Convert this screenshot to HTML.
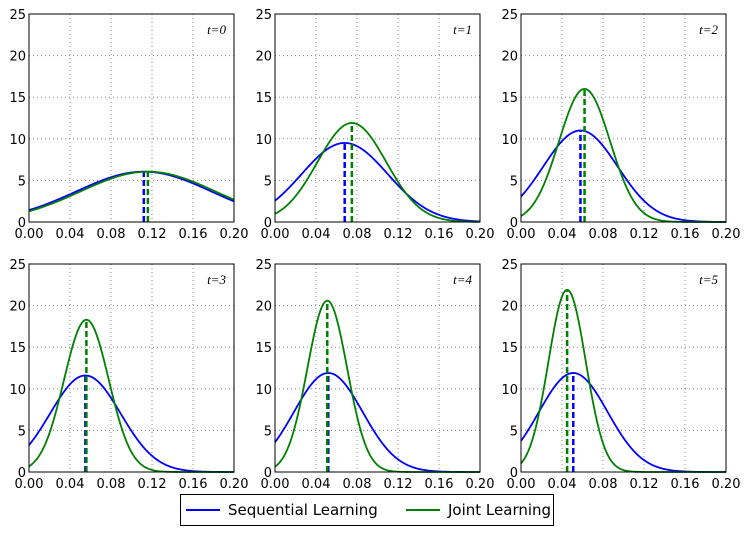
<!DOCTYPE html>
<html><head><meta charset="utf-8"><style>
body{margin:0;background:#fff;width:747px;height:531px;overflow:hidden;font-family:"DejaVu Sans","Liberation Sans",sans-serif}
</style></head><body>
<svg id="c" width="747" height="531" xmlns="http://www.w3.org/2000/svg"></svg>
<script>
const tLabels=["t=0","t=1","t=2","t=3","t=4","t=5"];
const blueMu=[0.112,0.068,0.058,0.055,0.052,0.051];
const bluePeak=[6.05,9.5,11.0,11.6,11.9,11.9];
const greenMu=[0.116,0.075,0.062,0.056,0.051,0.045];
const greenPeak=[6.05,11.9,16.0,18.3,20.6,21.9];
const xTicks=[0,0.04,0.08,0.12,0.16,0.2];
const xTickLabels=["0.00","0.04","0.08","0.12","0.16","0.20"];
const yTicks=[0,5,10,15,20,25];
const NS="http://www.w3.org/2000/svg";
const svg=document.getElementById('c');
function mk(t,a,p){const e=document.createElementNS(NS,t);for(const k in a)e.setAttribute(k,a[k]);(p||svg).appendChild(e);return e;}
const lefts=[29,275,521],tops=[14,264],W=205,H=208;
for(let i=0;i<6;i++){
 const L=lefts[i%3],T=tops[Math.floor(i/3)];
 const g=mk('g',{});
 
 
 const X=v=>L+v/0.2*W, Y=v=>T+H-v/25*H;
 xTicks.forEach((v,k)=>{
  const l=mk('line',{x1:X(v),x2:X(v),y1:T,y2:T+H,stroke:'#888','stroke-dasharray':'1,3','stroke-width':1},g);
  
  const tx=mk('text',{x:X(v),y:T+H+16,'text-anchor':'middle','font-size':13,fill:'#000'},g);
  tx.textContent=xTickLabels[k];
  
 });
 yTicks.forEach(v=>{
  const l=mk('line',{x1:L,x2:L+W,y1:Y(v),y2:Y(v),stroke:'#888','stroke-dasharray':'1,3','stroke-width':1},g);
  
  const tx=mk('text',{x:L-3,y:Y(v)+5,'text-anchor':'end','font-size':13,fill:'#000'},g);
  tx.textContent=v;
  
 });
 [[blueMu[i],bluePeak[i],'#0000ff','sequential'],[greenMu[i],greenPeak[i],'#008000','joint']].forEach(([mu,pk,col,nm])=>{
  const s=1/(pk*Math.sqrt(2*Math.PI));let d='';
  for(let j=0;j<=200;j++){const x=0.2*j/200;const y=pk*Math.exp(-((x-mu)**2)/(2*s*s));d+=(j?'L':'M')+X(x).toFixed(2)+','+Y(y).toFixed(2);}
  const p=mk('path',{d:d,fill:'none',stroke:col,'stroke-width':1.8},g);
  
  const m=mk('line',{x1:X(mu),x2:X(mu),y1:Y(0),y2:Y(pk),stroke:col,'stroke-width':2.5,'stroke-dasharray':'6,3'},g);
  
 });
 const r=mk('rect',{x:L,y:T,width:W,height:H,fill:'none',stroke:'#000','stroke-width':1},g);
 
 const tl=mk('text',{x:L+W-8,y:T+20,'text-anchor':'end','font-size':13,'font-family':'Liberation Serif,serif','font-style':'italic'},g);
 tl.textContent=tLabels[i];
 
}
const lg=mk('g',{});


mk('rect',{x:180.5,y:494.5,width:373,height:31,fill:'#fff',stroke:'#000'},lg);
mk('line',{x1:186,x2:220,y1:510,y2:510,stroke:'#0000ff','stroke-width':2},lg);
const t1=mk('text',{x:228,y:515,'font-size':15},lg);t1.textContent='Sequential Learning';

mk('line',{x1:406,x2:440,y1:510,y2:510,stroke:'#008000','stroke-width':2},lg);
const t2=mk('text',{x:448,y:515,'font-size':15},lg);t2.textContent='Joint Learning';

</script>
</body></html>
